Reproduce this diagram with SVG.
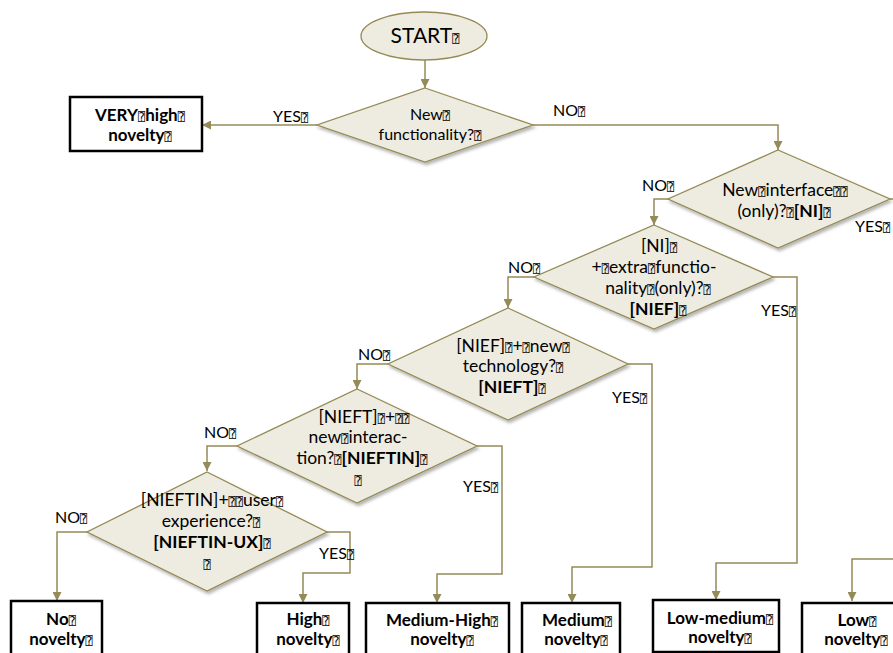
<svg xmlns="http://www.w3.org/2000/svg" width="893" height="653" viewBox="0 0 893 653">
<style>
text{font-family:Lato,"Open Sans","DejaVu Sans",sans-serif;fill:#000}
.t{font-size:17.5px;text-anchor:middle}
.t1{font-size:16px;text-anchor:middle}
.st{font-size:21px;text-anchor:middle}
.lbl{font-size:16px}
.bx{font-size:17px;font-weight:bold;text-anchor:middle}
.b{font-weight:bold}
.q{font-family:"DejaVu Sans Mono","DejaVu Sans",monospace;font-size:12px;font-weight:normal}
.dia{fill:#EEECE1;stroke:#948A54;stroke-width:1.3;filter:url(#sh)}
.term{fill:#EEECE1;stroke:#948A54;stroke-width:1.3}
.box{fill:#fff;stroke:#000;stroke-width:2.5}
.ca{fill:none;stroke:#958B59;stroke-width:1.5;marker-end:url(#ah)}
</style>
<defs>
<marker id="ah" markerUnits="userSpaceOnUse" markerWidth="9" markerHeight="9" refX="8" refY="4" orient="auto" viewBox="0 0 8 8">
<path d="M0,0 L8,4 L0,8 z" fill="#958B59"/>
</marker>
<filter id="sh" x="-10%" y="-10%" width="125%" height="130%">
<feDropShadow dx="1.5" dy="2.5" stdDeviation="1.5" flood-color="#000" flood-opacity="0.3"/>
</filter>
</defs>
<rect width="893" height="653" fill="#fff"/>

<g id="connectors">
<path class="ca" d="M425,60 V88"/>
<path class="ca" d="M317,125 H202"/>
<path class="ca" d="M533,125 H778 V150"/>
<path class="ca" d="M668,199 H654 V225"/>
<path class="ca" d="M890,199 H910 V559 H852 V601"/>
<path class="ca" d="M534,277 H508 V308"/>
<path class="ca" d="M773,277 H797 V563 H716 V600"/>
<path class="ca" d="M388,364 H357 V389"/>
<path class="ca" d="M628,364 H652 V567 H572 V603"/>
<path class="ca" d="M237,446 H207 V471"/>
<path class="ca" d="M477,446 H502 V574 H437 V603"/>
<path class="ca" d="M87,532 H57 V601"/>
<path class="ca" d="M327,532 H350 V573 H303 V603"/>
</g>

<g id="labels">
<text class="lbl" x="273" y="122">YES<tspan class="q">⍰</tspan></text>
<text class="lbl" x="553" y="116">NO<tspan class="q">⍰</tspan></text>
<text class="lbl" x="642" y="191">NO<tspan class="q">⍰</tspan></text>
<text class="lbl" x="855" y="232">YES<tspan class="q">⍰</tspan></text>
<text class="lbl" x="508" y="273">NO<tspan class="q">⍰</tspan></text>
<text class="lbl" x="761" y="316">YES<tspan class="q">⍰</tspan></text>
<text class="lbl" x="358" y="360">NO<tspan class="q">⍰</tspan></text>
<text class="lbl" x="612" y="403">YES<tspan class="q">⍰</tspan></text>
<text class="lbl" x="204" y="438">NO<tspan class="q">⍰</tspan></text>
<text class="lbl" x="463" y="492">YES<tspan class="q">⍰</tspan></text>
<text class="lbl" x="55" y="523">NO<tspan class="q">⍰</tspan></text>
<text class="lbl" x="319" y="559">YES<tspan class="q">⍰</tspan></text>
</g>

<g id="start">
<ellipse class="term" cx="424" cy="36" rx="63" ry="24"/>
<text class="st" x="425" y="43">START<tspan class="q">⍰</tspan></text>
</g>

<g id="d1">
<polygon class="dia" points="425,88 533,125 425,162 317,125"/>
<text class="t1" x="430" y="120">New<tspan class="q">⍰</tspan></text>
<text class="t1" x="430" y="140">functionality?<tspan class="q">⍰</tspan></text>
</g>

<g id="d2">
<polygon class="dia" points="778,150 890,199 778,248 668,199"/>
<text class="t" x="785" y="196">New<tspan class="q">⍰</tspan>interface<tspan class="q">⍰⍰</tspan></text>
<text class="t" x="784" y="217">(only)?<tspan class="q">⍰</tspan><tspan class="b">[NI]</tspan><tspan class="q">⍰</tspan></text>
</g>

<g id="d3">
<polygon class="dia" points="654,225 773,277 654,329 534,277"/>
<text class="t" x="659" y="252">[NI]<tspan class="q">⍰</tspan></text>
<text class="t" x="654" y="273">+<tspan class="q">⍰</tspan>extra<tspan class="q">⍰</tspan>functio-</text>
<text class="t" x="658" y="294">nality<tspan class="q">⍰</tspan>(only)?<tspan class="q">⍰</tspan></text>
<text class="t b" x="658" y="315">[NIEF]<tspan class="q">⍰</tspan></text>
</g>

<g id="d4">
<polygon class="dia" points="508,308 628,364 508,420 388,364"/>
<text class="t" x="513" y="352">[NIEF]<tspan class="q">⍰</tspan>+<tspan class="q">⍰</tspan>new<tspan class="q">⍰</tspan></text>
<text class="t" x="513" y="372">technology?<tspan class="q">⍰</tspan></text>
<text class="t b" x="512" y="393">[NIEFT]<tspan class="q">⍰</tspan></text>
</g>

<g id="d5">
<polygon class="dia" points="357,389 477,446 357,503 237,446"/>
<text class="t" x="364" y="423">[NIEFT]<tspan class="q">⍰</tspan>+<tspan class="q">⍰⍰</tspan></text>
<text class="t" x="358" y="443">new<tspan class="q">⍰</tspan>interac-</text>
<text class="t" x="362" y="464">tion?<tspan class="q">⍰</tspan><tspan class="b">[NIEFTIN]</tspan><tspan class="q">⍰</tspan></text>
<text class="t" x="358" y="485"><tspan class="q">⍰</tspan></text>
</g>

<g id="d6">
<polygon class="dia" points="207,472 327,532 207,591 87,532"/>
<text class="t" x="212" y="506">[NIEFTIN]+<tspan class="q">⍰⍰</tspan>user<tspan class="q">⍰</tspan></text>
<text class="t" x="211" y="527">experience?<tspan class="q">⍰</tspan></text>
<text class="t b" x="212" y="548">[NIEFTIN-UX]<tspan class="q">⍰</tspan></text>
<text class="t" x="207" y="569"><tspan class="q">⍰</tspan></text>
</g>

<g id="very-high">
<rect class="box" x="70" y="97" width="132" height="54"/>
<text class="bx" x="140" y="121">VERY<tspan class="q">⍰</tspan>high<tspan class="q">⍰</tspan></text>
<text class="bx" x="140" y="141">novelty<tspan class="q">⍰</tspan></text>
</g>

<g id="no-novelty">
<rect class="box" x="11" y="601" width="91" height="56"/>
<text class="bx" x="61" y="625">No<tspan class="q">⍰</tspan></text>
<text class="bx" x="61" y="645">novelty<tspan class="q">⍰</tspan></text>
</g>

<g id="high">
<rect class="box" x="257" y="603" width="92" height="54"/>
<text class="bx" x="308" y="625">High<tspan class="q">⍰</tspan></text>
<text class="bx" x="308" y="645">novelty<tspan class="q">⍰</tspan></text>
</g>

<g id="medium-high">
<rect class="box" x="366" y="603" width="143" height="54"/>
<text class="bx" x="442" y="626">Medium-High<tspan class="q">⍰</tspan></text>
<text class="bx" x="442" y="645">novelty<tspan class="q">⍰</tspan></text>
</g>

<g id="medium">
<rect class="box" x="522" y="603" width="98" height="54"/>
<text class="bx" x="577" y="626">Medium<tspan class="q">⍰</tspan></text>
<text class="bx" x="576" y="645">novelty<tspan class="q">⍰</tspan></text>
</g>

<g id="low-medium">
<rect class="box" x="653" y="600" width="126" height="52"/>
<text class="bx" x="720" y="624">Low-medium<tspan class="q">⍰</tspan></text>
<text class="bx" x="720" y="643">novelty<tspan class="q">⍰</tspan></text>
</g>

<g id="low">
<rect class="box" x="802" y="603" width="100" height="54"/>
<text class="bx" x="857" y="626">Low<tspan class="q">⍰</tspan></text>
<text class="bx" x="856" y="645">novelty<tspan class="q">⍰</tspan></text>
</g>
</svg>
